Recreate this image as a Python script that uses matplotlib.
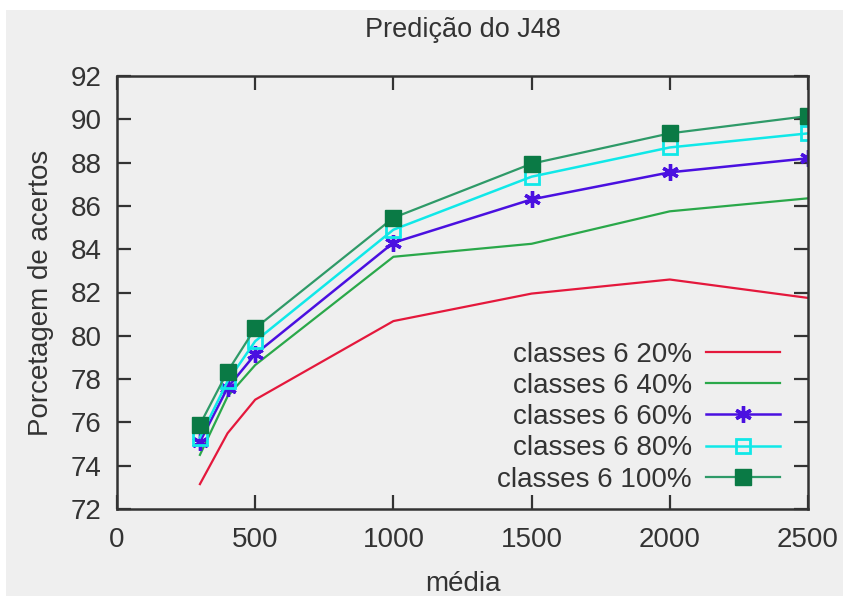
import matplotlib
matplotlib.use("Agg")
import matplotlib.pyplot as plt
from matplotlib.patches import Rectangle

plt.rcParams['font.family'] = ['Liberation Sans', 'DejaVu Sans']

x_values = [300, 400, 500, 1000, 1500, 2000, 2500]
series_labels = ["classes 6 20%", "classes 6 40%", "classes 6 60%",
                 "classes 6 80%", "classes 6 100%"]
acc_20 = [73.15, 75.5, 77.05, 80.68, 81.95, 82.6, 81.75]
acc_40 = [74.5, 77.2, 78.65, 83.65, 84.25, 85.75, 86.35]
acc_60 = [75.1, 77.6, 79.15, 84.3, 86.3, 87.55, 88.2]
acc_80 = [75.3, 77.9, 79.75, 84.9, 87.35, 88.7, 89.35]
acc_100 = [75.9, 78.35, 80.35, 85.45, 87.95, 89.35, 90.15]

x_ticks = [0, 500, 1000, 1500, 2000, 2500]
y_ticks = [72, 74, 76, 78, 80, 82, 84, 86, 88, 90, 92]

bg = '#efefef'
fig = plt.figure(figsize=(8.43, 5.96), dpi=100, facecolor=bg)
# white border strips at top and left
fig.patches.append(Rectangle((0, 1 - 10/596), 1, 10/596, transform=fig.transFigure,
                             facecolor='white', edgecolor='none', zorder=-10))
fig.patches.append(Rectangle((0, 0), 6/843, 1, transform=fig.transFigure,
                             facecolor='white', edgecolor='none', zorder=-10))

ax = fig.add_axes([117/843, 1 - 509/596, (808 - 117)/843, (509 - 76)/596])
ax.set_facecolor(bg)

fs = 20
ax.plot(x_values, acc_20, color='#e4183c', lw=1.6, label=series_labels[0])
ax.plot(x_values, acc_40, color='#2aa84a', lw=1.6, label=series_labels[1])
ax.plot(x_values, acc_60, color='#4a10e0', lw=1.8, marker=(6, 2, 0), ms=12,
        mew=2.4, label=series_labels[2])
ax.plot(x_values, acc_80, color='#10e8e8', lw=1.8, marker='s', ms=10,
        mfc='none', mew=2.0, label=series_labels[3])
ax.plot(x_values, acc_100, color='#2e9a68', lw=1.6, marker='s', ms=12,
        mfc='#0a7a45', mec='#0a7a45', label=series_labels[4])

ax.set_xlim(0, 2500)
ax.set_ylim(72, 92)
ax.set_xticks(x_ticks)
ax.set_yticks(y_ticks)
ax.tick_params(direction='in', length=10, width=1.6, color='#333333',
               labelsize=fs, labelcolor='#333333', top=True, right=True)
ax.tick_params(axis='x', pad=13)
ax.tick_params(axis='y', pad=11)
for s in ax.spines.values():
    s.set_linewidth(1.8)
    s.set_color('#333333')

ax.set_xlabel("média", fontsize=fs, color='#333333', labelpad=13)
ax.set_ylabel("Porcetagem de acertos", fontsize=fs, color='#333333', labelpad=12)
ax.set_title("Predição do J48", fontsize=19.5, color='#333333', pad=28)

leg = ax.legend(loc='lower right', frameon=False, markerfirst=False, fontsize=fs,
                handlelength=2.65, handletextpad=0.5, labelspacing=0.19,
                borderaxespad=0.0, bbox_to_anchor=(0.975, 0.012))
for t in leg.get_texts():
    t.set_color('#333333')

fig.savefig("out.png", dpi=100, facecolor=bg)
